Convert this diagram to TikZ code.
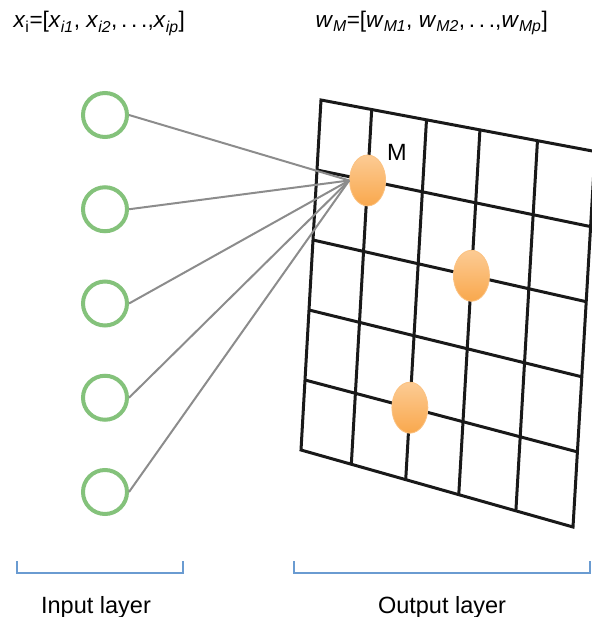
\documentclass[tikz,border=0pt]{standalone}
\usepackage{fontspec}
\setmainfont{Liberation Sans}
\usepackage{tikz}
\usetikzlibrary{calc, shapes.geometric}
\definecolor{somgreen}{HTML}{84C27B}
\definecolor{somgray}{HTML}{8C8C8C}
\definecolor{somblue}{HTML}{6A9BD1}
\definecolor{somorange}{HTML}{F9A84D}
\definecolor{somlight}{HTML}{FCCB94}

\begin{document}
\begin{tikzpicture}[x=1pt, y=-1pt, font=\fontsize{23.5}{28}\selectfont,
  innode/.style={circle, draw=somgreen, line width=4pt, minimum size=44pt, inner sep=0pt},
  ball/.style={ellipse, draw=somorange!70, line width=0.8pt, top color=somlight,
    bottom color=somorange, minimum width=36pt, minimum height=51pt, inner sep=0pt},
  link/.style={somgray, line width=2pt},
  gridline/.style={black!90, line width=3pt, line join=miter},
  bracket/.style={somblue, line width=1.6pt},
  vec/.style={anchor=base west, font=\fontsize{22.6}{27}\selectfont}]
\useasboundingbox (0,0) rectangle (591,617);

% output map
\coordinate (TL) at (321,100);
\coordinate (TR) at (595,151.5);
\coordinate (BL) at (301,450);
\coordinate (BR) at (573,527);
\foreach \k/\f in {1/0.185,2/0.385,3/0.58,4/0.79} {
  \coordinate (top\k) at ($(TL)!\f!(TR)$);
  \coordinate (bot\k) at ($(BL)!\f!(BR)$);
  \coordinate (lft\k) at ($(TL)!\k/5!(BL)$);
  \coordinate (rgt\k) at ($(TR)!\k/5!(BR)$);
  \draw[gridline] (top\k) -- (bot\k);
  \draw[gridline] (lft\k) -- (rgt\k);
}
\draw[gridline] (TL) -- (TR) -- (BR) -- (BL) -- cycle;

\node[ball] (bm) at ($(top1)!0.2!(bot1)$) {};
\node[ball] (b2) at ($(top3)!0.4!(bot3)$) {};
\node[ball] (b3) at ($(top2)!0.8!(bot2)$) {};
\node (mlabel) at (397,152) {M};

% input layer
\foreach \i in {1,...,5} {
  \node[innode] (in\i) at (105,{115+94.25*(\i-1)}) {};
  \draw[link] (in\i.east) -- (bm.west);
}

\node[vec] (xvec) at (10,28)
  {\textit{x}\textsubscript{i}=[\textit{x}\textsubscript{\textit{i1}}, \textit{x}\textsubscript{\textit{i2}},\,.\,.\,.,\textit{x}\textsubscript{\textit{ip}}]};
\node[vec] (wvec) at (312,28)
  {\textit{w}\textsubscript{\textit{M}}=[\textit{w}\textsubscript{\textit{M1}}, \textit{w}\textsubscript{\textit{M2}},\,.\,.\,.,\textit{w}\textsubscript{\textit{Mp}}]};

\draw[bracket] (17,561) |- (183,573) -- (183,561);
\draw[bracket] (294,561) |- (590,573) -- (590,561);
\node[anchor=base] (inlabel) at (96,613) {Input layer};
\node[anchor=base] (outlabel) at (442,613) {Output layer};
\end{tikzpicture}
\end{document}
